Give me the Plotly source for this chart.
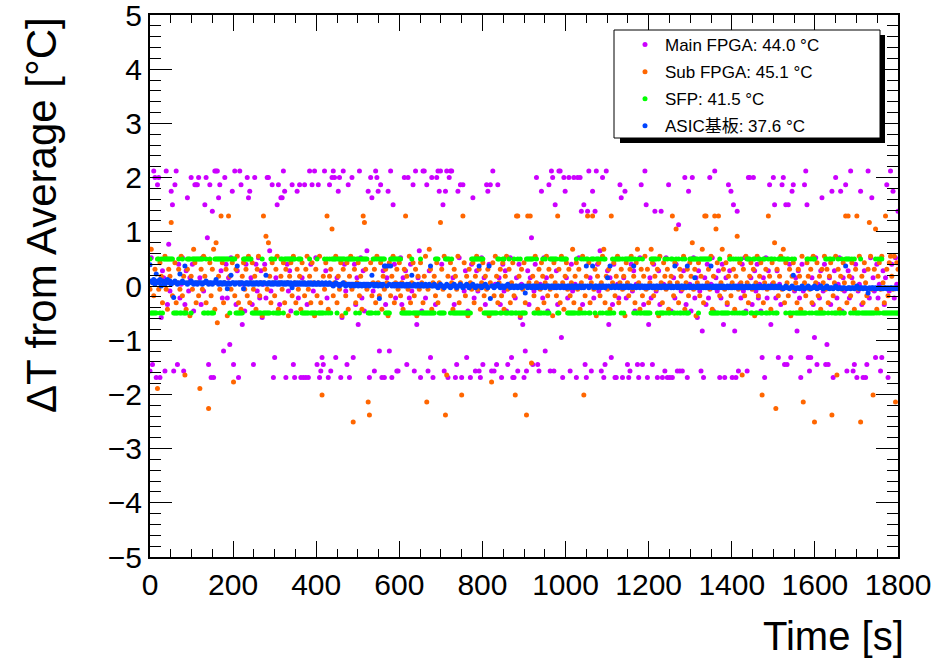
import plotly.graph_objects as go

# Sampling interval of the temperature log (seconds)
STEP_S = 3

# Delta T from average [deg C], one row per 60 s (20 samples)
MAIN_FPGA = [
    -1.57, 0.52, -1.45, 2.12, 2.00, -1.69, 1.87, 2.00, -1.69, -0.58, 0.28, 0.15, -1.57, 2.12, -0.34, 0.77, -0.09, 1.75, 1.50, -1.57,
    1.87, 2.12, -1.45, 0.40, -0.22, 0.03, 0.52, -1.57, -0.34, 0.28, 1.63, -0.09, 0.15, 2.00, 0.40, -0.46, 1.87, 1.87, 1.87, 2.00,
    0.15, -0.34, 0.52, -0.09, 1.50, 2.00, 0.89, -1.45, 1.87, -1.69, 1.38, -1.69, 2.12, 2.12, 2.12, 1.63, 1.87, 0.28, -0.22, -1.20,
    2.00, 0.40, -0.22, 0.15, -1.08, 0.52, 1.75, -1.45, 2.12, -0.34, 0.28, -1.69, 2.12, 1.87, -0.71, 0.03, -0.46, 0.40, 2.00, 1.63,
    1.75, 0.15, -0.34, -1.45, 2.00, 0.40, -0.09, 0.52, -0.22, 0.28, -0.58, 0.03, 0.40, -0.22, 2.00, 2.00, 0.65, -0.09, 1.87, -1.69,
    -1.32, 0.15, 1.50, 1.87, -0.34, 1.63, 1.63, 2.12, 1.75, -1.69, 0.40, -0.09, 0.28, -0.46, 1.87, -1.45, -1.69, 0.03, 1.75, -0.22,
    1.87, -1.69, 0.15, -1.69, 1.87, -1.69, -0.34, -1.69, 2.12, 0.40, 1.87, -0.09, 2.12, 0.52, -1.45, 1.87, -1.69, -1.57, -1.32, -1.45,
    2.12, 0.28, -0.22, -1.69, 1.87, -1.57, 2.00, 2.12, 2.00, -1.32, 0.15, 1.75, 2.00, -1.69, -0.58, 2.12, 0.40, -0.09, -1.45, 1.87,
    -1.69, 0.03, 2.00, -1.32, 0.40, -0.34, 0.15, -0.71, 2.12, 0.52, -0.22, 0.28, -0.46, 0.03, 0.65, 1.75, -1.69, 2.00, 1.63, -0.09,
    -1.57, 2.12, 2.00, 1.75, -1.20, 1.87, -1.69, 0.28, -1.69, -0.34, 0.15, 1.75, -1.20, 2.12, -1.69, 1.50, 0.40, -0.22, -1.57, -1.57,
    0.03, 0.52, -0.34, 0.15, 2.00, 0.28, -1.45, 2.00, -0.22, 0.40, -0.09, 1.87, -1.57, 2.12, -0.71, 0.15, 0.65, -1.69, -0.46, 2.12,
    2.12, -0.22, 1.87, -1.57, 0.28, -1.32, 2.00, -1.69, 0.03, -0.34, 2.00, 2.12, 1.75, 2.12, 0.40, 1.50, -1.57, 1.75, 2.12, -1.69,
    2.00, 2.12, 2.12, 0.15, -0.34, -1.69, -1.45, 1.75, 0.52, 1.87, -1.69, 1.87, -0.09, 0.28, -1.32, -0.46, 0.03, -1.69, 0.40, 1.63,
    -0.22, -1.57, 0.28, -0.09, -1.57, -1.69, 0.52, -1.45, 0.15, -0.34, 1.87, 1.75, 0.40, 1.87, -1.57, 2.12, -1.57, 0.03, -1.45, 1.87,
    0.15, -0.34, -1.69, 0.40, -0.09, 0.28, -0.46, -1.45, 0.03, 0.52, -1.32, -1.69, -1.69, -0.22, 0.15, -1.57, 0.40, -0.58, 0.03, -0.71,
    -1.69, -1.20, -1.57, 0.28, -0.34, 0.15, 0.89, -1.45, -0.09, 0.40, 2.00, -1.45, -1.57, 0.03, 1.75, -0.22, 0.52, -1.20, 0.15, -0.46,
    1.87, -1.57, 2.12, 2.00, -1.57, 1.50, 0.28, -0.34, 2.12, 2.12, -0.95, -1.69, 2.00, 1.75, 0.15, -0.22, 2.00, -1.57, 0.40, -0.09,
    2.00, 0.03, -1.69, 2.00, 0.52, 2.00, 1.38, -0.34, 1.50, -1.45, -1.69, 1.38, 2.12, 0.15, -1.57, 1.75, -0.22, 1.38, 2.12, 0.40,
    -0.09, 0.65, -1.57, 2.00, -1.69, -1.45, 2.12, 0.28, -0.71, 0.15, -1.32, -0.34, 0.40, -1.69, -1.69, 0.03, -0.22, 1.87, 1.63, -1.69,
    0.15, 1.75, -0.22, -1.45, -1.69, -1.57, 0.40, -0.09, 0.28, -0.46, 0.03, -1.45, -1.69, 0.52, 1.87, -1.45, -0.34, 2.12, 1.50, -1.69,
    -0.71, 0.15, -0.22, -1.45, 0.40, 1.38, -0.09, -1.69, 0.28, -0.34, 1.38, -1.69, 0.03, -1.57, 0.52, -1.69, 1.87, -1.69, -0.46, -1.69,
    0.15, -0.22, 0.40, -1.57, 1.13, -1.57, -0.09, -1.57, 0.28, 2.00, -0.34, -1.69, 1.75, 0.03, -0.46, 2.00, 0.52, -0.22, 0.15, -0.58,
    0.28, -0.09, -1.57, -0.83, -1.69, 0.15, -0.34, 0.40, -0.22, 2.00, 0.03, 0.52, -0.46, 2.12, 0.15, -0.09, 0.28, -1.69, -0.22, 0.40,
    -0.71, -1.69, 0.15, -0.34, 1.87, 0.28, 1.75, -1.69, 1.50, -0.83, -1.69, 1.38, -1.57, 0.03, -0.22, 0.40, -0.09, 0.52, -0.46, -1.57,
    2.00, 2.00, 0.15, -0.34, 2.00, 0.28, -0.09, 0.40, -0.22, 0.03, -0.46, -1.32, 0.15, -1.69, 0.52, -0.22, 0.28, 1.87, -0.71, 0.03,
    2.00, 1.50, -0.22, 0.28, -1.32, 0.03, -0.34, 1.87, 2.00, -1.45, 1.50, -1.45, 1.50, 0.40, -1.32, 1.75, 1.87, -0.09, 0.15, -0.83,
    0.28, -0.22, -1.69, 0.40, -0.09, 1.87, 2.12, 1.50, -1.32, -1.57, -1.32, 0.15, -0.34, -0.95, 0.52, -1.45, 0.03, -0.22, 0.28, 1.63,
    -0.09, 0.40, -1.45, -1.08, -1.45, 0.15, -0.34, 1.75, -1.69, 0.28, 2.00, -0.22, 0.03, 0.52, 1.75, -0.46, 0.15, -0.09, 1.87, -1.57,
    0.28, -0.22, 2.12, 0.15, -1.57, -1.45, 0.40, -1.69, -0.09, 0.03, 1.75, -0.34, -1.69, 0.28, -1.69, -1.45, 2.12, -0.22, 0.52, 1.63,
    0.15, -0.09, -1.32, 0.40, -0.22, 0.03, -1.57, -1.32, 0.28, -0.34, 0.15, 1.87, -1.69, -0.09, 2.12, 0.40, 1.75, -0.22, 0.52, 0.03,
    1.38,
]

SUB_FPGA = [
    -0.06, 0.68, 0.06, -0.18, 0.31, 0.06, -1.89, -0.06, 0.43, 0.18, -0.31, 0.06, 0.55, -0.06, -0.43, 0.31, 0.18, 1.17, -0.18, 0.06,
    0.43, -0.31, 0.06, 0.31, -0.06, 0.55, -0.18, 0.18, -1.64, -0.43, 0.31, 0.06, -0.55, 0.18, -0.06, 0.68, 0.43, -0.31, 0.06, -0.18,
    -1.89, 0.31, -0.06, 0.55, 0.18, -0.31, 0.06, -2.26, 0.43, -0.18, 0.31, 0.68, -0.43, 0.80, -0.68, 0.18, -0.06, 1.29, 0.43, -0.31,
    0.06, 0.31, -0.55, 1.29, 0.18, -0.06, 0.43, -1.77, -0.18, 0.31, 0.55, -0.31, 0.06, -0.43, 0.18, 0.43, -0.06, 0.31, -0.18, 0.55,
    -0.31, 0.06, 0.43, -0.06, 0.18, -0.43, 0.31, 0.55, -0.18, 0.06, -0.55, 1.29, 0.31, 0.92, -0.06, 0.80, 0.18, -0.31, 0.43, 0.06,
    -0.18, 0.31, 0.55, -0.43, 0.06, 0.18, -0.06, 0.43, -0.31, 0.31, 0.06, -0.55, 0.18, 0.43, -0.18, 0.55, 0.06, -0.31, 0.31, -0.06,
    0.18, -0.43, 0.43, 0.06, -0.18, 0.31, 0.55, -0.06, 0.18, -0.31, 0.43, 0.06, -0.55, 0.31, -0.18, 0.06, 0.55, -0.31, -2.01, 0.18,
    -0.06, 0.43, 1.29, -0.43, 0.18, 0.31, 1.05, -0.18, 0.06, 0.55, -0.31, 0.18, -0.06, 0.43, -0.55, 0.31, 0.06, -0.18, 0.43, -0.43,
    0.18, 0.55, -0.06, -2.51, 0.31, -0.31, 0.06, 0.43, -0.18, 0.18, -0.43, 1.29, 1.17, 0.31, -0.06, -2.14, -2.38, 0.43, -0.18, 0.06,
    0.31, -0.31, 0.55, 0.06, -0.18, 0.43, -0.43, 0.18, -0.06, 0.31, 0.06, -0.55, 0.43, -0.18, 0.18, 0.55, -0.31, 0.06, 0.31, -0.06,
    0.43, -0.18, 0.06, -0.43, 0.31, 1.29, 0.18, -0.06, 0.55, -0.31, 0.06, 0.43, -0.18, 0.31, -0.55, 0.18, -0.06, 0.43, 0.06, -0.31,
    0.18, 0.55, -2.14, -0.06, 0.68, 0.31, -0.43, 0.06, 0.18, -0.18, 0.43, -0.31, 0.06, 1.17, 0.31, -0.06, 0.55, -2.38, -1.64, 0.18,
    -0.18, 0.43, 0.06, -0.43, 0.31, 0.18, -0.06, 0.55, -0.31, 0.06, -2.01, 1.29, 0.43, -0.18, 0.18, -0.55, 0.31, 0.06, -0.06, 0.43,
    -0.31, 0.18, 0.55, -0.06, 0.31, -0.43, 0.06, 0.43, -0.18, 0.18, -0.06, 0.31, -0.55, 0.06, -1.77, 0.43, -0.18, 0.55, 0.18, -0.31,
    0.06, 0.31, -0.18, 0.43, -0.43, 0.18, 0.55, -0.06, 0.31, -0.31, 0.06, 0.43, -0.18, -2.01, 1.29, 1.29, 0.18, -0.55, 0.31, -0.06,
    0.43, -0.31, -2.38, 1.29, 0.06, 1.29, -1.42, 0.18, -0.18, 0.55, 0.06, -0.43, 0.31, -0.06, 0.43, 0.18, -0.31, 0.06, 0.55, -0.18,
    0.31, -0.06, 0.18, -0.55, 0.43, 0.06, -0.18, 1.29, 0.31, -0.31, 0.55, 0.06, -0.43, 0.18, 0.43, -0.06, 0.31, -0.18, 0.06, 0.68,
    -0.31, 0.18, 0.43, -0.06, 0.31, -0.43, 0.06, 0.55, -2.01, -0.18, 0.18, 1.29, 0.43, -0.31, 0.06, 1.29, -0.06, 0.31, -0.55, 0.18,
    0.43, -0.18, 0.06, 0.55, 0.68, -0.31, 0.18, -0.06, 0.31, -0.43, 1.29, 0.06, 0.43, -0.18, 0.18, 0.55, -0.31, 0.06, 0.31, -0.06,
    0.18, -0.55, 0.43, 0.06, -0.18, 0.31, 0.55, -0.06, 0.18, -0.31, 0.43, 0.68, 0.06, -0.43, 0.31, -0.18, 0.18, 0.55, -0.06, 0.31,
    -0.31, 0.06, 0.68, 0.43, -0.18, 0.18, -0.06, 0.31, -0.55, 0.55, 0.06, -0.31, 0.43, 0.18, -0.06, 0.31, -0.43, 0.06, 0.18, 1.29,
    -0.18, 0.43, 1.05, 0.06, -0.31, 0.31, 0.18, -0.06, 0.55, -0.43, 0.06, 0.31, -0.18, 0.43, 0.18, 0.80, -0.06, 0.31, -0.55, 0.06,
    0.43, -0.18, 0.18, 0.68, -0.31, 1.29, 1.29, 0.06, 0.31, -0.06, 0.55, -0.43, 0.18, 1.29, 1.05, 0.43, 1.29, -0.18, 0.06, 0.68,
    0.31, -0.06, 0.43, -0.31, 0.18, 0.55, -0.18, 0.06, 0.31, -0.43, 0.18, 0.92, -0.06, 0.43, 0.06, -1.64, 0.31, -0.18, 0.55, 0.06,
    -0.31, 0.18, 0.43, -0.06, 0.31, -0.55, 0.06, 0.55, -0.18, 0.18, 0.43, -2.01, -0.31, 0.06, 0.31, -0.06, 1.29, 0.18, -0.43, 0.43,
    0.06, 0.80, -2.26, 0.31, -0.18, 0.18, 0.55, -0.06, 0.68, -0.31, 0.43, 0.06, -0.18, 0.31, -0.55, 0.18, 0.43, -0.06, 0.06, -0.31,
    0.31, 0.18, -0.43, 0.55, -2.14, 0.06, -0.18, 0.43, 0.18, -0.06, 0.31, -0.31, 0.55, -2.51, 0.06, 0.43, -0.18, 0.18, -0.43, 0.31,
    0.06, 0.55, -0.06, 0.31, -0.31, 0.18, 0.43, -2.38, -0.18, 0.06, 0.55, -1.64, 0.31, -0.43, 0.18, -0.06, 0.43, 0.06, 1.29, -0.31,
    1.29, 0.18, -0.18, 0.43, 0.06, -0.43, 0.31, 1.29, -0.06, 0.55, -2.51, 0.18, -0.31, 0.43, 0.06, -0.18, 0.31, 1.17, 0.55, -0.06,
    -2.01, 0.31, 1.05, -0.43, 0.18, 0.43, -0.06, 0.55, 0.06, -0.31, 1.29, 0.31, -0.18, 0.43, 0.55, 0.18, -0.06, 0.55, -2.14, 0.43,
    0.31,
]

SFP = [
    0.5, -0.5, -0.5, -0.5, -0.5, -0.5, 0.5, 0.5, -0.5, 0.5, -0.5, 0.5, 0.5, 0.5, 0.5, 0.5, 0.5, 0.5, 0.5, -0.5,
    -0.5, -0.5, -0.5, 0.5, -0.5, -0.5, 0.5, -0.5, -0.5, -0.5, 0.5, 0.5, 0.5, -0.5, 0.5, 0.5, 0.5, 0.5, 0.5, 0.5,
    0.5, 0.5, 0.5, -0.5, -0.5, 0.5, -0.5, -0.5, 0.5, -0.5, -0.5, -0.5, 0.5, 0.5, 0.5, 0.5, 0.5, 0.5, 0.5, 0.5,
    0.5, 0.5, 0.5, 0.5, -0.5, 0.5, 0.5, 0.5, 0.5, -0.5, -0.5, -0.5, -0.5, -0.5, -0.5, 0.5, 0.5, 0.5, 0.5, 0.5,
    0.5, 0.5, -0.5, -0.5, -0.5, -0.5, -0.5, -0.5, -0.5, -0.5, 0.5, -0.5, -0.5, -0.5, -0.5, -0.5, -0.5, 0.5, 0.5, -0.5,
    0.5, -0.5, -0.5, -0.5, -0.5, 0.5, 0.5, -0.5, 0.5, 0.5, 0.5, 0.5, 0.5, 0.5, 0.5, 0.5, 0.5, -0.5, -0.5, 0.5,
    0.5, 0.5, -0.5, -0.5, -0.5, -0.5, -0.5, -0.5, 0.5, -0.5, -0.5, -0.5, -0.5, -0.5, 0.5, -0.5, -0.5, -0.5, -0.5, -0.5,
    0.5, -0.5, 0.5, -0.5, 0.5, -0.5, 0.5, 0.5, 0.5, 0.5, -0.5, 0.5, 0.5, 0.5, 0.5, 0.5, 0.5, -0.5, 0.5, 0.5,
    0.5, 0.5, 0.5, 0.5, 0.5, -0.5, 0.5, 0.5, -0.5, 0.5, 0.5, 0.5, 0.5, 0.5, 0.5, -0.5, -0.5, -0.5, -0.5, 0.5,
    0.5, -0.5, 0.5, -0.5, 0.5, 0.5, 0.5, 0.5, 0.5, -0.5, -0.5, -0.5, -0.5, 0.5, 0.5, 0.5, 0.5, 0.5, 0.5, 0.5,
    0.5, 0.5, -0.5, -0.5, -0.5, -0.5, -0.5, -0.5, -0.5, -0.5, 0.5, -0.5, -0.5, -0.5, -0.5, -0.5, -0.5, 0.5, -0.5, -0.5,
    -0.5, -0.5, -0.5, -0.5, -0.5, -0.5, -0.5, -0.5, -0.5, 0.5, 0.5, 0.5, -0.5, -0.5, -0.5, -0.5, -0.5, 0.5, 0.5, 0.5,
    0.5, -0.5, 0.5, -0.5, -0.5, -0.5, -0.5, -0.5, -0.5, -0.5, -0.5, -0.5, -0.5, -0.5, -0.5, -0.5, -0.5, -0.5, 0.5, 0.5,
    0.5, 0.5, 0.5, 0.5, 0.5, 0.5, 0.5, 0.5, -0.5, -0.5, -0.5, -0.5, -0.5, -0.5, -0.5, -0.5, -0.5, -0.5, -0.5, 0.5,
    0.5, -0.5, -0.5, 0.5, 0.5, -0.5, -0.5, -0.5, 0.5, -0.5, -0.5, -0.5, 0.5, -0.5, -0.5, 0.5, -0.5, 0.5, -0.5, -0.5,
    -0.5, -0.5, 0.5, 0.5, 0.5, 0.5, 0.5, 0.5, -0.5, -0.5, 0.5, -0.5, -0.5, -0.5, -0.5, 0.5, -0.5, 0.5, -0.5, -0.5,
    -0.5, 0.5, 0.5, 0.5, 0.5, 0.5, 0.5, -0.5, -0.5, 0.5, 0.5, 0.5, 0.5, 0.5, 0.5, -0.5, -0.5, -0.5, -0.5, -0.5,
    -0.5, -0.5, 0.5, -0.5, -0.5, -0.5, 0.5, -0.5, 0.5, -0.5, 0.5, 0.5, -0.5, -0.5, 0.5, 0.5, 0.5, -0.5, 0.5, 0.5,
    0.5, -0.5, 0.5, -0.5, 0.5, 0.5, -0.5, -0.5, -0.5, -0.5, -0.5, 0.5, -0.5, 0.5, 0.5, 0.5, 0.5, 0.5, -0.5, 0.5,
    -0.5, 0.5, 0.5, 0.5, 0.5, 0.5, 0.5, 0.5, -0.5, 0.5, -0.5, -0.5, 0.5, -0.5, -0.5, 0.5, -0.5, -0.5, -0.5, -0.5,
    -0.5, -0.5, 0.5, 0.5, 0.5, 0.5, 0.5, -0.5, 0.5, -0.5, -0.5, -0.5, -0.5, 0.5, -0.5, 0.5, -0.5, -0.5, 0.5, 0.5,
    -0.5, -0.5, 0.5, -0.5, 0.5, -0.5, -0.5, 0.5, -0.5, 0.5, -0.5, -0.5, -0.5, 0.5, 0.5, 0.5, 0.5, 0.5, 0.5, 0.5,
    -0.5, 0.5, 0.5, 0.5, 0.5, 0.5, 0.5, 0.5, 0.5, 0.5, -0.5, -0.5, -0.5, -0.5, -0.5, -0.5, -0.5, 0.5, -0.5, -0.5,
    -0.5, -0.5, -0.5, -0.5, -0.5, 0.5, 0.5, -0.5, 0.5, -0.5, 0.5, -0.5, 0.5, -0.5, 0.5, -0.5, -0.5, -0.5, -0.5, 0.5,
    0.5, 0.5, -0.5, -0.5, 0.5, 0.5, -0.5, -0.5, 0.5, 0.5, -0.5, -0.5, 0.5, 0.5, -0.5, -0.5, 0.5, -0.5, 0.5, 0.5,
    -0.5, 0.5, -0.5, -0.5, 0.5, 0.5, 0.5, 0.5, 0.5, 0.5, -0.5, 0.5, 0.5, -0.5, -0.5, 0.5, -0.5, 0.5, -0.5, -0.5,
    -0.5, -0.5, -0.5, -0.5, -0.5, -0.5, -0.5, 0.5, 0.5, -0.5, 0.5, -0.5, 0.5, 0.5, -0.5, -0.5, -0.5, -0.5, -0.5, -0.5,
    -0.5, -0.5, 0.5, 0.5, -0.5, 0.5, 0.5, -0.5, 0.5, -0.5, -0.5, -0.5, 0.5, -0.5, -0.5, 0.5, -0.5, -0.5, 0.5, 0.5,
    0.5, 0.5, -0.5, 0.5, -0.5, 0.5, -0.5, -0.5, -0.5, -0.5, 0.5, -0.5, -0.5, -0.5, -0.5, -0.5, -0.5, -0.5, -0.5, -0.5,
    -0.5, -0.5, 0.5, -0.5, 0.5, -0.5, 0.5, 0.5, -0.5, -0.5, -0.5, -0.5, -0.5, -0.5, -0.5, -0.5, -0.5, -0.5, -0.5, -0.5,
    -0.5,
]

ASIC = [
    0.39, 0.09, 0.06, 0.12, 0.03, 0.22, 0.09, 0.06, 0.12, 0.00, 0.09, 0.06, 0.03, 0.09, 0.12, 0.06, 0.09, 0.03, 0.06, -0.21,
    0.09, 0.06, 0.03, 0.06, 0.22, 0.06, 0.09, 0.06, 0.37, 0.06, 0.03, 0.06, 0.06, 0.09, 0.06, 0.03, 0.06, 0.06, 0.03, 0.06,
    0.06, 0.06, 0.03, 0.06, 0.06, 0.09, 0.06, 0.03, 0.06, 0.06, 0.03, 0.06, 0.06, 0.12, 0.06, 0.03, 0.06, 0.06, 0.03, 0.06,
    0.06, 0.03, -0.05, 0.06, 0.03, 0.20, 0.06, 0.06, 0.03, 0.06, 0.37, 0.06, 0.03, 0.06, 0.06, -0.05, 0.03, 0.06, 0.06, 0.03,
    0.06, 0.06, 0.03, 0.06, 0.03, 0.06, 0.06, 0.03, 0.06, 0.06, 0.03, 0.06, 0.06, 0.20, 0.03, 0.06, 0.06, 0.03, 0.06, 0.03,
    0.06, 0.06, 0.03, 0.06, 0.03, 0.06, 0.06, 0.03, 0.06, 0.03, 0.06, 0.06, 0.03, 0.06, -0.03, 0.03, 0.06, 0.03, 0.06, 0.03,
    0.06, 0.03, 0.06, 0.03, 0.06, 0.03, 0.03, 0.06, 0.03, 0.06, 0.03, 0.03, 0.06, 0.03, 0.03, 0.06, 0.03, 0.03, 0.06, 0.03,
    0.03, 0.06, 0.03, 0.03, 0.06, 0.03, 0.03, 0.00, 0.03, 0.06, 0.03, 0.03, 0.00, 0.03, 0.03, 0.06, 0.03, 0.00, 0.03, 0.03,
    0.03, 0.00, 0.03, 0.03, 0.00, 0.03, 0.03, 0.00, 0.03, 0.03, 0.00, 0.03, 0.03, 0.00, 0.03, 0.03, 0.00, 0.03, 0.20, 0.03,
    0.00, 0.03, 0.03, 0.00, -0.23, 0.03, 0.00, 0.03, 0.37, 0.37, 0.00, 0.37, 0.03, 0.37, 0.00, 0.03, 0.00, 0.03, 0.00, 0.03,
    0.00, 0.03, 0.00, 0.03, 0.00, 0.00, 0.03, 0.00, 0.03, 0.00, 0.20, 0.00, 0.03, 0.00, 0.00, 0.03, 0.00, 0.00, 0.03, 0.00,
    0.00, 0.03, 0.00, 0.00, 0.03, 0.37, 0.00, 0.00, 0.03, 0.00, 0.00, -0.03, 0.00, 0.03, 0.00, 0.00, -0.03, 0.00, 0.03, 0.00,
    0.00, -0.03, 0.00, 0.00, 0.03, 0.00, -0.03, 0.00, 0.00, 0.03, 0.00, -0.03, 0.00, 0.00, 0.03, 0.00, -0.03, 0.00, 0.00, 0.03,
    0.00, -0.03, 0.00, 0.00, 0.37, 0.00, -0.03, 0.00, 0.00, 0.03, 0.00, -0.03, 0.37, -0.23, 0.00, 0.00, -0.03, 0.00, 0.00, 0.03,
    0.00, -0.03, 0.00, 0.00, -0.03, 0.00, 0.00, 0.03, 0.00, -0.03, 0.00, 0.00, -0.03, 0.00, 0.00, -0.03, 0.00, 0.00, -0.03, 0.00,
    0.00, -0.13, 0.00, -0.03, 0.00, 0.00, -0.03, 0.00, 0.00, -0.03, 0.00, -0.03, 0.00, 0.00, -0.03, 0.00, 0.00, -0.03, 0.00, 0.00,
    0.00, -0.03, 0.00, 0.00, -0.03, 0.00, -0.03, 0.00, 0.00, -0.03, 0.00, 0.00, -0.03, 0.00, -0.03, 0.00, 0.00, -0.03, 0.00, 0.00,
    -0.03, 0.00, 0.00, -0.03, 0.00, 0.00, -0.03, 0.00, -0.03, 0.00, 0.37, 0.00, -0.03, 0.00, 0.00, 0.37, -0.03, 0.00, 0.00, -0.03,
    0.00, 0.00, -0.03, 0.00, 0.00, -0.03, 0.00, 0.15, 0.00, 0.37, -0.03, 0.00, 0.00, -0.03, 0.00, 0.00, -0.03, 0.00, 0.00, -0.03,
    0.00, -0.03, 0.00, 0.00, -0.03, 0.00, 0.00, -0.03, 0.37, 0.00, -0.03, 0.00, 0.00, -0.03, 0.00, 0.00, -0.03, 0.00, -0.03, 0.00,
    -0.03, 0.00, 0.00, -0.03, 0.00, -0.03, 0.00, 0.00, -0.03, 0.00, -0.03, 0.00, 0.00, -0.03, 0.00, -0.03, 0.00, 0.00, -0.03, 0.00,
    -0.03, 0.37, 0.00, -0.03, 0.00, -0.03, 0.00, 0.00, -0.03, 0.00, -0.03, 0.37, 0.00, -0.03, 0.00, -0.03, 0.00, 0.15, -0.03, 0.00,
    -0.03, 0.00, -0.03, 0.00, -0.03, 0.00, -0.03, 0.00, -0.03, 0.00, 0.37, -0.03, 0.00, -0.03, 0.00, -0.03, 0.00, -0.03, 0.00, -0.03,
    0.00, -0.03, -0.03, 0.00, -0.03, 0.00, -0.03, -0.03, 0.00, -0.03, 0.00, -0.03, -0.03, 0.00, -0.03, 0.00, -0.03, -0.03, 0.00, -0.03,
    -0.03, 0.00, -0.03, -0.03, 0.00, -0.03, -0.03, 0.00, -0.03, -0.03, 0.00, -0.03, -0.03, 0.00, -0.03, -0.03, 0.00, -0.03, -0.03, 0.00,
    -0.03, -0.03, 0.00, -0.03, -0.03, 0.00, -0.03, -0.03, -0.05, -0.03, 0.00, -0.03, -0.03, -0.05, -0.03, 0.00, 0.20, -0.03, -0.05, -0.03,
    -0.03, -0.05, -0.03, 0.00, -0.03, -0.05, -0.03, -0.03, 0.00, -0.03, -0.05, -0.03, -0.03, 0.00, -0.03, -0.05, -0.03, -0.03, 0.00, -0.03,
    -0.05, -0.03, -0.03, 0.00, -0.03, -0.05, -0.03, -0.03, -0.05, -0.03, 0.00, -0.03, -0.05, -0.03, -0.03, -0.05, -0.03, -0.03, 0.37, -0.05,
    -0.03, -0.03, -0.05, -0.03, -0.03, -0.05, -0.03, 0.00, -0.03, -0.05, -0.03, -0.03, -0.05, -0.03, -0.03, -0.05, -0.13, -0.03, -0.05, -0.03,
    -0.03, -0.05, -0.03, -0.05, -0.03, -0.03, -0.05, -0.03, -0.05, -0.03, -0.03, -0.05, -0.03, -0.05, -0.03, -0.03, -0.05, -0.03, -0.05, -0.03,
    -0.05,
]

SERIES_NAMES = ["Main FPGA: 44.0 °C", "Sub FPGA: 45.1 °C", "SFP: 41.5 °C", "ASIC基板: 37.6 °C"]
SERIES_VALUES = [MAIN_FPGA, SUB_FPGA, SFP, ASIC]
SERIES_COLORS = ["#cc00ff", "#ff6600", "#00ff00", "#0044ff"]

X_TICKS = [0, 200, 400, 600, 800, 1000, 1200, 1400, 1600, 1800]
Y_TICKS = [-5, -4, -3, -2, -1, 0, 1, 2, 3, 4, 5]

X_TITLE = "Time [s]"
Y_TITLE = "ΔT from Average [°C]"

FONT = "Liberation Sans, Arial, Helvetica, Noto Sans CJK JP, sans-serif"

W, H = 937, 658
ML, MR, MT, MB = 150, 39, 15, 101
PW, PH = W - ML - MR, H - MT - MB


def px_x(x):
    return (x - ML) / PW


def px_y(y):
    return (H - MB - y) / PH


fig = go.Figure()
for name, vals, color in zip(SERIES_NAMES, SERIES_VALUES, SERIES_COLORS):
    fig.add_trace(go.Scatter(
        x=[i * STEP_S for i in range(len(vals))],
        y=vals,
        mode="markers",
        name=name,
        legendgroup=name,
        marker=dict(color=color, size=5, line=dict(width=0)),
        hoverinfo="x+y+name",
    ))

axis_common = dict(
    showline=True, linecolor="black", linewidth=2, mirror="allticks",
    ticks="inside", tickcolor="black", tickwidth=1,
    showgrid=False, zeroline=False, automargin=False,
    ticklabeloverflow="allow",
    tickfont=dict(family=FONT, size=30, color="black"),
)
fig.update_xaxes(range=[0, 1800], tickmode="array", tickvals=X_TICKS, ticklen=16,
                 minor=dict(dtick=50, tick0=0, ticklen=8, ticks="inside", tickcolor="black", tickwidth=1, showgrid=False),
                 **axis_common)
fig.update_yaxes(range=[-5, 5], tickmode="array", tickvals=Y_TICKS, ticklen=22,
                 minor=dict(dtick=0.2, tick0=0, ticklen=11, ticks="inside", tickcolor="black", tickwidth=1, showgrid=False),
                 **axis_common)

shapes = [
    # legend shadow
    dict(type="rect", xref="paper", yref="paper", layer="above",
         x0=px_x(620), x1=px_x(885), y0=px_y(143), y1=px_y(35),
         fillcolor="black", line=dict(width=0)),
    # legend box
    dict(type="rect", xref="paper", yref="paper", layer="above",
         x0=px_x(614), x1=px_x(880), y0=px_y(138), y1=px_y(30),
         fillcolor="white", line=dict(color="black", width=1)),
]

annotations = [
    dict(text=Y_TITLE, xref="paper", yref="paper", x=px_x(41), y=px_y(215),
         xanchor="center", yanchor="middle", textangle=-90, showarrow=False,
         font=dict(family=FONT, size=42, color="black")),
    dict(text=X_TITLE, xref="paper", yref="paper", x=px_x(906), y=px_y(636),
         xanchor="right", yanchor="middle", showarrow=False,
         font=dict(family=FONT, size=40, color="black")),
]

fig.update_layout(
    width=W, height=H,
    margin=dict(l=ML, r=MR, t=MT, b=MB, pad=0),
    paper_bgcolor="white", plot_bgcolor="white",
    font=dict(family=FONT, color="black"),
    shapes=shapes, annotations=annotations,
    showlegend=True,
    legend=dict(x=px_x(625), xanchor="left", y=px_y(27), yanchor="top",
                bgcolor="rgba(0,0,0,0)", borderwidth=0, tracegroupgap=2,
                font=dict(family=FONT, size=17, color="black")),
)

fig.write_html("out.html",
               config={"displayModeBar": False},
               post_script="document.body.style.margin='0px';document.body.style.padding='0px';")
